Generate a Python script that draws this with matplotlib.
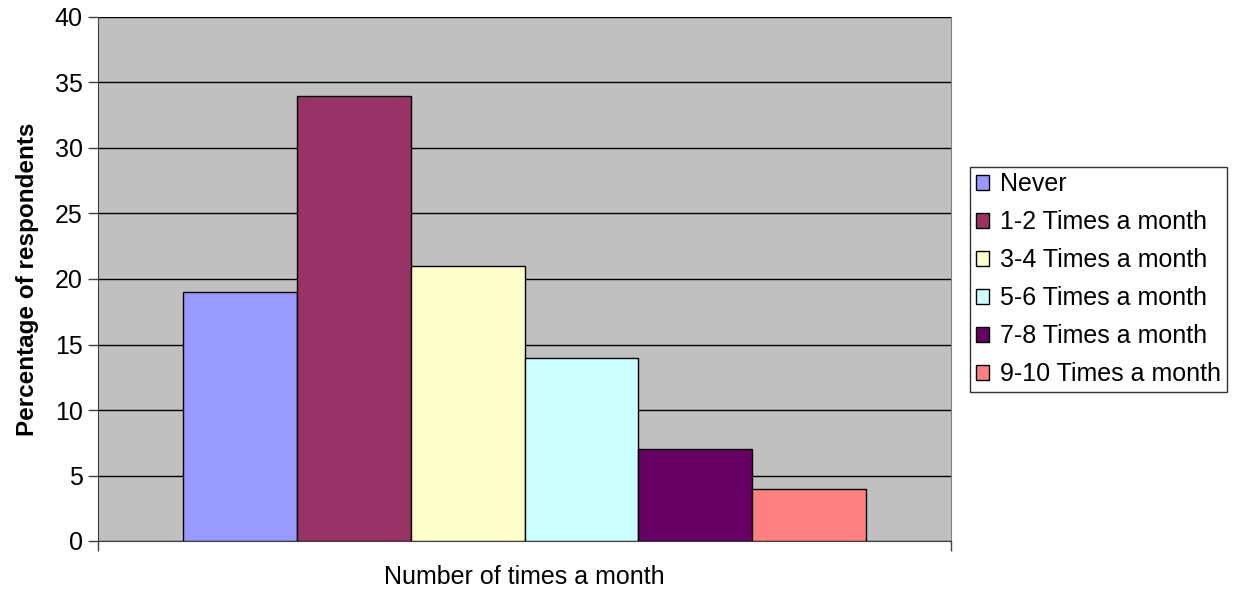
import matplotlib
matplotlib.use("Agg")
import matplotlib.pyplot as plt
from matplotlib.patches import Patch

plt.rcParams['font.family'] = ['Liberation Sans', 'DejaVu Sans']

categories = ["Never", "1-2 Times a month", "3-4 Times a month",
              "5-6 Times a month", "7-8 Times a month", "9-10 Times a month"]
values = [19, 34, 21, 14, 7, 4]
colors = ["#9999FF", "#993366", "#FFFFCC", "#CCFFFF", "#660066", "#FF8080"]
yticks = [0, 5, 10, 15, 20, 25, 30, 35, 40]

fig = plt.figure(figsize=(12.44, 5.93), dpi=100)
ax = fig.add_axes([98/1244, 52/593, 853/1244, 524/593])
ax.set_facecolor("#C0C0C0")

gap = 1.5
n = len(values)
for i, (v, c, lab) in enumerate(zip(values, colors, categories)):
    ax.bar(gap/2 + 0.5 + i, v, width=1.0, color=c, edgecolor="black",
           linewidth=1.0, label=lab, zorder=3)

ax.set_xlim(0, n + gap)
ax.set_ylim(0, 40)
ax.set_yticks(yticks)
ax.set_yticklabels([str(t) for t in yticks], fontsize=18)
ax.yaxis.grid(True, color="black", linewidth=1.0, zorder=1)
ax.set_axisbelow(True)
ax.set_xticks([0, n + gap])
ax.set_xticklabels([])
ax.tick_params(axis='x', length=7, width=1, color="#404040")
ax.tick_params(axis='y', length=7, width=1, color="#404040", pad=4)

ax.spines["top"].set_visible(False)
ax.spines["right"].set_color("#808080")
ax.spines["left"].set_color("#404040")
ax.spines["bottom"].set_color("#404040")

ax.set_ylabel("Percentage of respondents", fontsize=17.5, fontweight="bold", labelpad=11)
ax.set_xlabel("Number of times a month", fontsize=18, labelpad=7)

handles = [Patch(facecolor=c, edgecolor="black", linewidth=1.0) for c in colors]
leg = fig.legend(handles, categories, loc="upper left",
                 bbox_to_anchor=(970/1244, 1 - 167/593), fontsize=18,
                 frameon=True, fancybox=False, edgecolor="black",
                 handlelength=0.55, handleheight=0.55, handletextpad=0.45,
                 labelspacing=0.56, borderpad=0.22, borderaxespad=0)
leg.get_frame().set_linewidth(1.0)

fig.savefig("out.png", dpi=100)
